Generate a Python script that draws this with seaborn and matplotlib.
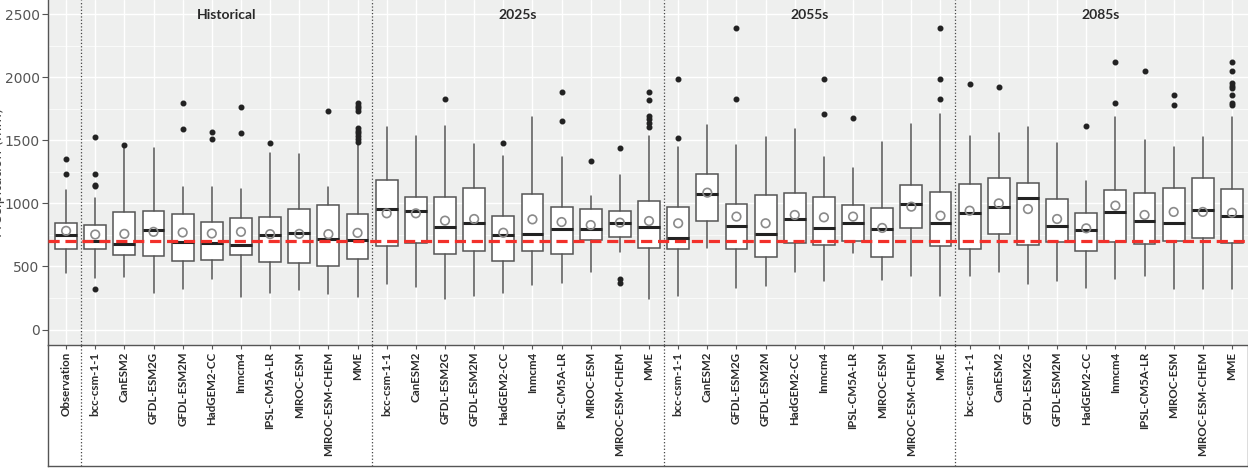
import numpy as np
import pandas as pd
import seaborn as sns
import matplotlib.pyplot as plt
from matplotlib.ticker import MultipleLocator

# categories
models = ["bcc-csm-1-1", "CanESM2", "GFDL-ESM2G", "GFDL-ESM2M", "HadGEM2-CC",
          "Inmcm4", "IPSL-CM5A-LR", "MIROC-ESM", "MIROC-ESM-CHEM", "MME"]
periods = ["Historical", "2025s", "2055s", "2085s"]
labels = ["Observation"] + models * 4

# box statistics (Observation, then 10 per period)
whislo = [450,
          405, 418, 291, 320, 402, 257, 291, 312, 278, 257,
          358, 340, 242, 269, 292, 353, 372, 459, 612, 242,
          266, 645, 326, 348, 456, 385, 604, 393, 425, 266,
          425, 459, 361, 385, 332, 398, 425, 319, 319, 319]
q1 = [638,
      635, 590, 587, 540, 553, 590, 534, 524, 500, 556,
      665, 684, 596, 626, 544, 626, 599, 710, 737, 644,
      641, 864, 641, 578, 689, 671, 700, 575, 803, 663,
      636, 758, 671, 692, 626, 692, 676, 705, 726, 684]
med = [749,
       701, 680, 789, 696, 683, 667, 749, 765, 717, 709,
       954, 943, 816, 848, 750, 755, 795, 800, 843, 811,
       729, 1073, 824, 761, 877, 806, 843, 800, 996, 843,
       927, 972, 1046, 821, 790, 930, 861, 848, 948, 901]
q3 = [849,
      833, 931, 942, 918, 857, 884, 894, 955, 992, 918,
      1187, 1054, 1054, 1120, 903, 1078, 972, 956, 940, 1017,
      970, 1237, 993, 1067, 1081, 1052, 988, 967, 1144, 1088,
      1152, 1200, 1163, 1033, 922, 1104, 1083, 1126, 1200, 1112]
whishi = [1106,
          1040, 1437, 1437, 1127, 1133, 1117, 1402, 1389, 1130, 1470,
          1610, 1536, 1615, 1472, 1377, 1684, 1366, 1060, 1226, 1536,
          1446, 1623, 1462, 1528, 1591, 1366, 1279, 1491, 1631, 1710,
          1536, 1562, 1604, 1483, 1181, 1684, 1506, 1451, 1525, 1684]
means = [783,
         754, 759, 775, 770, 762, 775, 757, 759, 757, 767,
         922, 922, 864, 877, 768, 874, 853, 829, 848, 861,
         843, 1086, 896, 843, 909, 890, 896, 806, 975, 903,
         943, 1001, 956, 877, 803, 983, 909, 933, 933, 927]
outliers = [[1238, 1357],
            [320, 1138, 1146, 1233, 1524], [1461], [], [1590, 1794], [1513, 1564],
            [1558, 1768], [1482], [], [1733],
            [1490, 1513, 1535, 1556, 1574, 1596, 1733, 1754, 1775, 1799],
            [], [], [1827], [], [1483], [], [1655, 1882], [1334], [372, 398, 1443],
            [1610, 1641, 1668, 1695, 1821, 1885],
            [1522, 1985], [], [1827, 2393], [], [], [1713, 1985], [1676], [], [],
            [1827, 1985, 2393],
            [1948], [1927], [], [], [1615], [1795, 2125], [2049], [1784, 1858], [],
            [1779, 1795, 1861, 1914, 1933, 1954, 2049, 2125]]
obs_line = 705

sns.set_theme(style="darkgrid", rc={"axes.facecolor": "#EEEFEE", "grid.color": "white"})
plt.rcParams["font.family"] = ["DejaVu Sans"]

fig = plt.figure(figsize=(12.48, 4.71), dpi=100)
ax = fig.add_axes([48 / 1248, 126 / 471, 1200 / 1248, 345 / 471])
lab = fig.add_axes([48 / 1248, 5 / 471, 1200 / 1248, 121 / 471], zorder=-1)

pos = np.arange(len(labels))
stats = [dict(whislo=a, q1=b, med=c, q3=d, whishi=e, fliers=f)
         for a, b, c, d, e, f in zip(whislo, q1, med, q3, whishi, outliers)]
ax.bxp(stats, positions=pos, widths=0.75, patch_artist=True, showcaps=False,
       boxprops=dict(facecolor="white", edgecolor="#555555", linewidth=1.1),
       medianprops=dict(color="#222222", linewidth=2.2),
       whiskerprops=dict(color="#555555", linewidth=1.1),
       flierprops=dict(marker="o", markerfacecolor="#222222", markeredgecolor="#222222",
                       markersize=3.3))

df = pd.DataFrame({"pos": pos, "mean": means})
sns.scatterplot(data=df, x="pos", y="mean", ax=ax, s=38, marker="o",
                facecolors="none", edgecolor="#8a8a8a", linewidth=1.2, zorder=4)

ax.axhline(obs_line, color="#F2302A", lw=2.3, dashes=(3.5, 1.8), zorder=5)

# panel separators and titles
bounds = [0.5, 10.5, 20.5, 30.5]
for b in bounds:
    ax.axvline(b, color="#444444", lw=0.9, ls=":", zorder=1)
    lab.axvline(b, color="#444444", lw=0.9, ls=":")
for i, p in enumerate(periods):
    ax.text(5.5 + 10 * i, 0.956, p, transform=ax.get_xaxis_transform(),
            ha="center", va="center", fontsize=10, fontweight="bold",
            fontfamily="Lato", color="#2a2a2a")

ax.set_xlim(-0.62, 40.55)
ax.set_ylim(-123, 2615)
ax.set_yticks(range(0, 2501, 500))
ax.yaxis.set_minor_locator(MultipleLocator(250))
ax.grid(which="major", color="white", lw=1.0)
ax.grid(which="minor", axis="y", color="white", lw=0.5)
ax.set_xticks(pos)
ax.set_xticklabels(labels, rotation=90, fontfamily="Lato", fontweight="bold",
                   fontsize=8.3, color="#2a2a2a")
ax.tick_params(axis="x", length=3, width=0.8, color="#555555", pad=2, bottom=True)
ax.tick_params(axis="y", length=4, width=0.8, color="#555555", pad=2, left=True,
               labelsize=10, labelcolor="#555555")
ax.set_xlabel("")
ax.set_ylabel("Precipitation (mm)", fontsize=10, color="#444444")
ax.yaxis.set_label_coords(-0.036, 0.5)
for s in ["top", "right"]:
    ax.spines[s].set_visible(False)
for s in ["left", "bottom"]:
    ax.spines[s].set_visible(True)
    ax.spines[s].set_color("#555555")
    ax.spines[s].set_linewidth(1)

lab.set_xlim(ax.get_xlim())
lab.set_xticks([])
lab.set_yticks([])
lab.patch.set_alpha(0)
lab.grid(False)
lab.spines["top"].set_visible(False)
for s in ["left", "bottom", "right"]:
    lab.spines[s].set_visible(True)
    lab.spines[s].set_color("#555555")
    lab.spines[s].set_linewidth(1)

fig.patch.set_facecolor("white")
fig.savefig("out.png", dpi=100)
